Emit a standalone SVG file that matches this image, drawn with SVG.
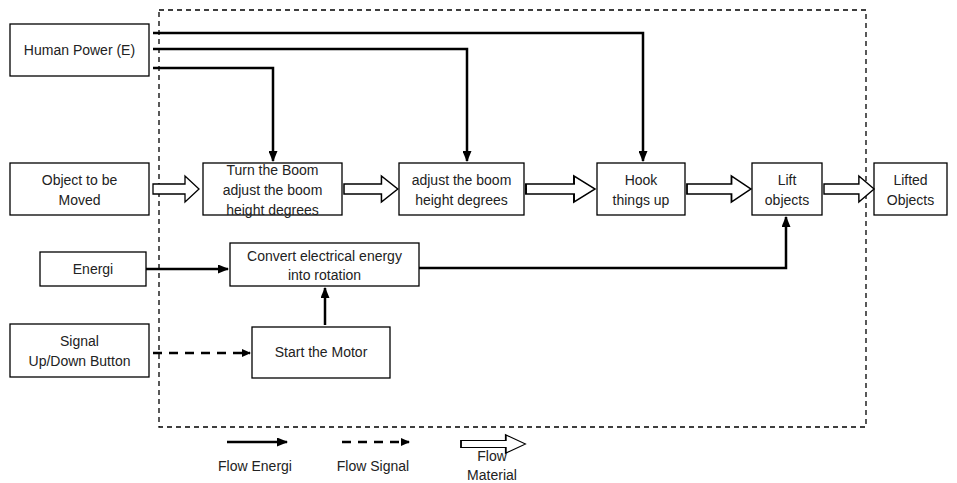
<svg xmlns="http://www.w3.org/2000/svg" width="957" height="483" viewBox="0 0 957 483">
<defs>
<marker id="ah" markerWidth="11" markerHeight="9" refX="10" refY="4.5" orient="auto" markerUnits="userSpaceOnUse"><path d="M0,0 L11,4.5 L0,9 Z" fill="#000"/></marker>
<marker id="ahs" markerWidth="9" markerHeight="8" refX="8" refY="4" orient="auto" markerUnits="userSpaceOnUse"><path d="M0,0 L9,4 L0,8 Z" fill="#000"/></marker>
<path id="hollow" d="M0,-5 L32,-5 L32,-13 L46,0 L32,13 L32,5 L0,5 Z"/>
</defs>
<style>
.box{fill:#fff;stroke:#000;stroke-width:1.3}
.t{font-family:"Liberation Sans",Arial,sans-serif;font-size:14px;fill:#222;text-anchor:middle}
.e{fill:none;stroke:#000;stroke-width:2.5}
.s{fill:none;stroke:#000;stroke-width:2.5;stroke-dasharray:9,7}
.m{fill:#fff;stroke:#000;stroke-width:1.3}
</style>
<rect x="159" y="10" width="707" height="417" fill="none" stroke="#000" stroke-width="1.3" stroke-dasharray="5,4"/>
<g id="human-power"><rect class="box" x="10" y="24" width="139" height="52"/><text class="t" x="79.5" y="55">Human Power (E)</text></g>
<g id="object-moved"><rect class="box" x="10" y="163" width="139" height="52"/><text class="t" x="79.5" y="185">Object to be</text><text class="t" x="79.5" y="205">Moved</text></g>
<g id="turn-boom"><rect class="box" x="203" y="163" width="139" height="52"/><text class="t" x="272.5" y="175">Turn the Boom</text><text class="t" x="272.5" y="195">adjust the boom</text><text class="t" x="272.5" y="215">height degrees</text></g>
<g id="adjust-boom"><rect class="box" x="399" y="163" width="125" height="52"/><text class="t" x="461.5" y="185">adjust the boom</text><text class="t" x="461.5" y="205">height degrees</text></g>
<g id="hook"><rect class="box" x="597" y="163" width="88" height="52"/><text class="t" x="641" y="185">Hook</text><text class="t" x="641" y="205">things up</text></g>
<g id="lift"><rect class="box" x="752" y="163" width="70" height="52"/><text class="t" x="787" y="185">Lift</text><text class="t" x="787" y="205">objects</text></g>
<g id="lifted"><rect class="box" x="874" y="163" width="73" height="52"/><text class="t" x="910.5" y="185">Lifted</text><text class="t" x="910.5" y="205">Objects</text></g>
<g id="energi"><rect class="box" x="40" y="252" width="106" height="34"/><text class="t" x="93" y="274">Energi</text></g>
<g id="convert"><rect class="box" x="230" y="243" width="189" height="43"/><text class="t" x="324.5" y="261">Convert electrical energy</text><text class="t" x="324.5" y="280">into rotation</text></g>
<g id="signal"><rect class="box" x="10" y="324" width="139" height="53"/><text class="t" x="79.5" y="346">Signal</text><text class="t" x="79.5" y="366">Up/Down Button</text></g>
<g id="start-motor"><rect class="box" x="252" y="327" width="138" height="51"/><text class="t" x="321" y="357">Start the Motor</text></g>
<g id="connectors">
<path class="e" d="M153,33 H643 V161" marker-end="url(#ah)"/>
<path class="e" d="M153,49 H467 V161" marker-end="url(#ah)"/>
<path class="e" d="M153,68 H273 V161" marker-end="url(#ah)"/>
<path class="e" d="M146,269 H228" marker-end="url(#ah)"/>
<path class="e" d="M325,325 V288" marker-end="url(#ah)"/>
<path class="e" d="M419,268 H786 V217" marker-end="url(#ah)"/>
<path class="s" d="M153,353 H250" marker-end="url(#ahs)"/>
<use href="#hollow" class="m" transform="translate(153,189)"/>
<use href="#hollow" class="m" transform="translate(344,189) scale(1.17,1)"/>
<use href="#hollow" class="m" transform="translate(526,189) scale(1.5,1)"/>
<use href="#hollow" class="m" transform="translate(687,189) scale(1.39,1)"/>
<use href="#hollow" class="m" transform="translate(824,189) scale(1.09,1)"/>
</g>
<g id="legend">
<path class="e" d="M227,442 H287" marker-end="url(#ah)"/>
<text class="t" x="255" y="471">Flow Energi</text>
<path class="s" d="M342,442 H409" marker-end="url(#ahs)"/>
<text class="t" x="373" y="471">Flow Signal</text>
<use href="#hollow" class="m" transform="translate(461,444) scale(1.4,0.7)"/>
<text class="t" x="492" y="461">Flow</text>
<text class="t" x="492" y="480">Material</text>
</g>
</svg>
